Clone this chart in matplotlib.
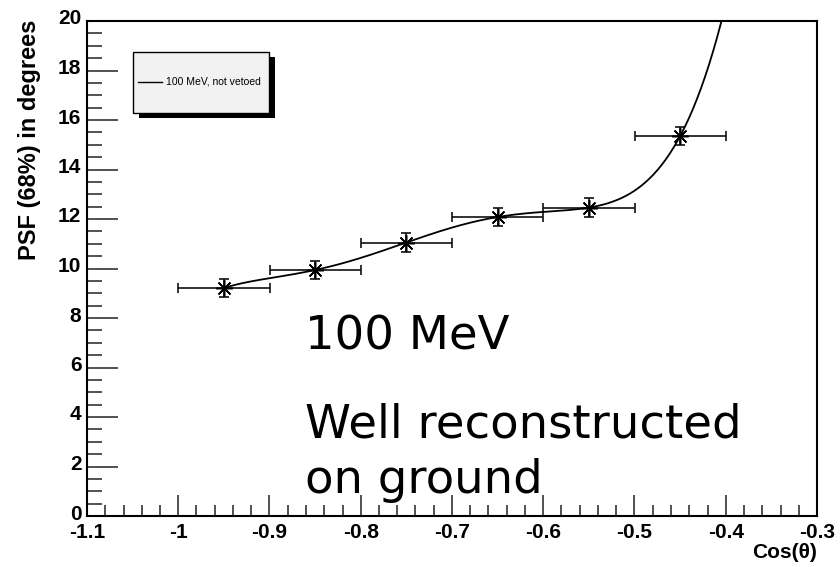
import numpy as np
import matplotlib
matplotlib.use("Agg")
import matplotlib.pyplot as plt
from matplotlib.patches import Rectangle
from matplotlib.lines import Line2D
from matplotlib.ticker import MultipleLocator, FuncFormatter
import matplotlib.transforms as mtransforms

plt.rcParams['axes.unicode_minus'] = False

# ---- data ----
cos_theta = [-0.95, -0.85, -0.75, -0.65, -0.55, -0.45]
cos_err = [0.05, 0.05, 0.05, 0.05, 0.05, 0.05]
psf68 = [9.21, 9.94, 11.05, 12.08, 12.46, 15.35]
psf_err = [0.38, 0.38, 0.38, 0.38, 0.38, 0.38]
legend_label = "100 MeV, not vetoed"
x_title = "Cos(θ)"
y_title = "PSF (68%) in degrees"
note_lines = ["100 MeV", "Well reconstructed", "on ground"]

W, H = 840, 567
fig = plt.figure(figsize=(W / 100, H / 100), dpi=100)
ax = fig.add_axes([87 / W, 1 - 516 / H, (817 - 87) / W, (516 - 21) / H])

# fit curve (5th order polynomial through the points)
coef = np.polyfit(cos_theta, psf68, 5)
xf = np.linspace(cos_theta[0], -0.3, 600)
ax.plot(xf, np.polyval(coef, xf), color='black', lw=1.3, zorder=3)

ax.errorbar(cos_theta, psf68, xerr=cos_err, yerr=psf_err, fmt='none',
            ecolor='#111111', elinewidth=1.2, capsize=3.5, capthick=1.2, zorder=2)
ax.plot(cos_theta, psf68, linestyle='none', marker=(8, 2, 0), markersize=12,
        markeredgewidth=1.1, color='black', zorder=4)

ax.set_xlim(-1.1, -0.3)
ax.set_ylim(0, 20)
ax.xaxis.set_major_locator(MultipleLocator(0.1))
ax.xaxis.set_minor_locator(MultipleLocator(0.02))
ax.yaxis.set_major_locator(MultipleLocator(2))
ax.yaxis.set_minor_locator(MultipleLocator(0.5))
ax.xaxis.set_major_formatter(FuncFormatter(lambda v, p: ('%g' % round(v, 2))))
ax.yaxis.set_major_formatter(FuncFormatter(lambda v, p: ('%g' % round(v, 2))))
ax.tick_params(which='both', direction='in', top=False, right=False, color='#333333')
ax.tick_params(axis='x', which='major', length=15, width=1.2, pad=5)
ax.tick_params(axis='x', which='minor', length=8, width=1.2)
ax.tick_params(axis='y', which='major', length=22, width=1.2, pad=4)
ax.tick_params(axis='y', which='minor', length=11, width=1.2)
for lab in ax.get_xticklabels() + ax.get_yticklabels():
    lab.set_fontfamily('Liberation Sans')
    lab.set_fontweight('bold')
    lab.set_fontsize(15)
# nudge y tick labels slightly upward (as in the reference)
shift = mtransforms.ScaledTranslation(0, 4 / 100, fig.dpi_scale_trans)
for lab in ax.get_yticklabels():
    lab.set_transform(lab.get_transform() + shift)
for s in ax.spines.values():
    s.set_linewidth(1.5)

fig.text(30 / W, 1 - 20 / H, y_title, rotation=90, ha='center', va='top',
         fontfamily='Liberation Sans', fontweight='bold', fontsize=17)
fig.text(817 / W, 1 - 553 / H, x_title, ha='right', va='center',
         fontfamily='Liberation Sans', fontweight='bold', fontsize=15)

# big annotation
txt_kw = dict(transform=ax.transAxes, ha='left', va='baseline',
              fontfamily='DejaVu Sans', fontsize=33.5, color='black')
ax.text((305 - 87) / 730, (516 - 350) / 495, note_lines[0], **txt_kw)
ax.text((305 - 87) / 730, (516 - 437) / 495, note_lines[1], **txt_kw)
ax.text((305 - 87) / 730, (516 - 493) / 495, note_lines[2], clip_on=False, **txt_kw)

# legend box with shadow
def fig_rect(x0, y0, x1, y1, **kw):
    return Rectangle((x0 / W, 1 - y1 / H), (x1 - x0) / W, (y1 - y0) / H,
                     transform=fig.transFigure, **kw)

fig.add_artist(fig_rect(139, 57, 275, 118, facecolor='black', edgecolor='black', lw=0))
fig.add_artist(fig_rect(133, 52, 269, 113, facecolor='#f2f2f2', edgecolor='black', lw=1))
fig.add_artist(Line2D([138 / W, 162 / W], [1 - 82 / H, 1 - 82 / H], color='black', lw=1,
                      transform=fig.transFigure))
fig.text(166 / W, 1 - 82 / H, legend_label, ha='left', va='center',
         fontfamily='Liberation Sans', fontsize=7.5)

fig.savefig('out.png', dpi=100)
